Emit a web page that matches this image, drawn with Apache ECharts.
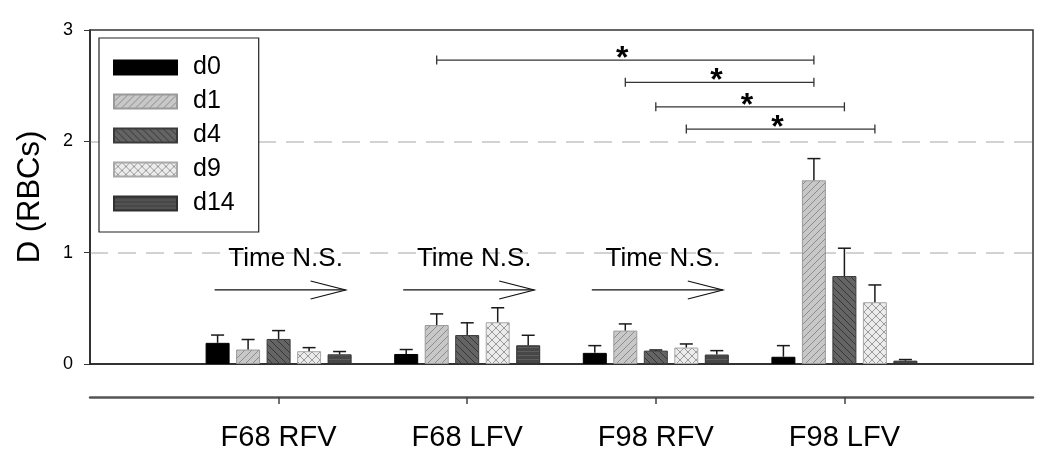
<!DOCTYPE html>
<html>
<head>
<meta charset="utf-8">
<script src="https://cdn.jsdelivr.net/npm/echarts@6/dist/echarts.min.js"></script>
<style>
html,body{margin:0;padding:0;background:#fff;}
#chart{width:1050px;height:462px;}
</style>
</head>
<body>
<div id="chart"></div>
<script>
// ---------- data ----------
const categories = ['F68 RFV', 'F68 LFV', 'F98 RFV', 'F98 LFV'];
const seriesNames = ['d0', 'd1', 'd4', 'd9', 'd14'];
const d0 = [0.19, 0.09, 0.10, 0.065];
const d1 = [0.13, 0.35, 0.30, 1.65];
const d4 = [0.225, 0.26, 0.12, 0.79];
const d9 = [0.115, 0.375, 0.148, 0.555];
const d14 = [0.087, 0.168, 0.085, 0.03];
const d0Err = [0.07, 0.04, 0.065, 0.10];
const d1Err = [0.09, 0.10, 0.06, 0.195];
const d4Err = [0.075, 0.11, 0.006, 0.25];
const d9Err = [0.032, 0.13, 0.032, 0.155];
const d14Err = [0.025, 0.09, 0.035, 0.01];
const yTicks = [0, 1, 2, 3];
// significance brackets: [group, series] -> [group, series] at level
const bracketFrom = [[1, 1], [2, 1], [2, 2], [2, 3]];
const bracketTo = [[3, 1], [3, 1], [3, 2], [3, 3]];
const bracketLevel = [2.73, 2.53, 2.31, 2.11];
const bracketMark = '*';
// "Time N.S." annotations
const nsGroups = [0, 1, 2];
const nsLabel = 'Time N.S.';
const nsTextLevel = 0.945;
const nsArrowLevel = 0.665;
const yName = 'D (RBCs)';

const means = [d0, d1, d4, d9, d14];
const errs = [d0Err, d1Err, d4Err, d9Err, d14Err];

// ---------- styles ----------
const FONT = 'Liberation Sans, Arial, sans-serif';
const BAR_W = 24, GAP_PX = 6.5, STEP = BAR_W + GAP_PX;
function pattern(bg, fg, kind, size) {
  const c = document.createElement('canvas');
  c.width = size; c.height = size;
  const g = c.getContext('2d');
  g.fillStyle = bg; g.fillRect(0, 0, size, size);
  g.strokeStyle = fg; g.lineWidth = 1;
  const s = size;
  function fwd() { g.beginPath(); g.moveTo(0, s); g.lineTo(s, 0); g.moveTo(-1, 1); g.lineTo(1, -1); g.moveTo(s - 1, s + 1); g.lineTo(s + 1, s - 1); g.stroke(); }
  function back() { g.beginPath(); g.moveTo(0, 0); g.lineTo(s, s); g.moveTo(-1, s - 1); g.lineTo(1, s + 1); g.moveTo(s - 1, -1); g.lineTo(s + 1, 1); g.stroke(); }
  if (kind === 'fwd') fwd();
  if (kind === 'back') back();
  if (kind === 'cross') { fwd(); back(); }
  if (kind === 'horiz') { g.beginPath(); g.moveTo(0, s - 0.5); g.lineTo(s, s - 0.5); g.stroke(); }
  return { image: c, repeat: 'repeat' };
}
const fills = [
  '#000000',
  pattern('#c8c8c8', '#8c8c8c', 'fwd', 7),
  pattern('#646464', '#363636', 'back', 7),
  pattern('#ececec', '#9a9a9a', 'cross', 8),
  pattern('#474747', '#5e5e5e', 'horiz', 4)
];
const borders = ['#000', '#9a9a9a', '#3a3a3a', '#a8a8a8', '#303030'];

const axisData = [''].concat(categories, ['']);
function padded(arr) { return [null].concat(arr, [null]); }

const barSeries = seriesNames.map((n, i) => ({
  name: n, type: 'bar', xAxisIndex: 0, yAxisIndex: 0,
  barWidth: BAR_W, barGap: (GAP_PX / BAR_W * 100) + '%',
  data: padded(means[i]),
  itemStyle: { color: fills[i], borderColor: borders[i], borderWidth: 1 },
  emphasis: { disabled: true },
  z: 2
}));

const errData = [];
means.forEach((arr, s) => arr.forEach((m, g) => errData.push([g + 1, s, m, errs[s][g]])));

const errSeries = {
  type: 'custom', name: 'err', xAxisIndex: 0, yAxisIndex: 0,
  encode: { x: 0, y: 2 }, data: errData, z: 3, silent: true,
  renderItem: function (params, api) {
    const cat = api.value(0), s = api.value(1), m = api.value(2), e = api.value(3);
    const b = api.coord([cat, m]), t = api.coord([cat, m + e]);
    const x = b[0] + (s - 2) * STEP;
    const st = { stroke: '#1a1a1a', lineWidth: 1.5 };
    return { type: 'group', children: [
      { type: 'line', shape: { x1: x, y1: b[1], x2: x, y2: t[1] }, style: st },
      { type: 'line', shape: { x1: x - 6.5, y1: t[1], x2: x + 6.5, y2: t[1] }, style: st }
    ] };
  }
};

const bracketData = bracketFrom.map((f, i) => [f[0] + 1, f[1], bracketTo[i][0] + 1, bracketTo[i][1], bracketLevel[i]]);
const bracketSeries = {
  type: 'custom', name: 'sig', xAxisIndex: 0, yAxisIndex: 0,
  encode: { x: 0, y: 4 }, data: bracketData, z: 4, silent: true,
  renderItem: function (params, api) {
    const lvl = api.value(4);
    const p1 = api.coord([api.value(0), lvl]);
    const p2 = api.coord([api.value(2), lvl]);
    const x1 = p1[0] + (api.value(1) - 2) * STEP;
    const x2 = p2[0] + (api.value(3) - 2) * STEP;
    const y = p1[1];
    const st = { stroke: '#333', lineWidth: 1.3 };
    return { type: 'group', children: [
      { type: 'line', shape: { x1: x1, y1: y, x2: x2, y2: y }, style: st },
      { type: 'line', shape: { x1: x1, y1: y - 4.5, x2: x1, y2: y + 4.5 }, style: st },
      { type: 'line', shape: { x1: x2, y1: y - 4.5, x2: x2, y2: y + 4.5 }, style: st },
      { type: 'text', x: (x1 + x2) / 2 - 3, y: y - 1, style: { text: bracketMark, fontFamily: FONT, fontWeight: 'bold', fontSize: 32, fill: '#000', align: 'center', verticalAlign: 'middle' } }
    ] };
  }
};

const nsData = nsGroups.map(g => [g + 1, nsTextLevel, nsArrowLevel]);
const nsSeries = {
  type: 'custom', name: 'ns', xAxisIndex: 0, yAxisIndex: 0,
  encode: { x: 0, y: 1 }, data: nsData, z: 4, silent: true,
  renderItem: function (params, api) {
    const t = api.coord([api.value(0), api.value(1)]);
    const a = api.coord([api.value(0), api.value(2)]);
    const x0 = a[0] - 64, x1 = a[0] + 67, y = a[1];
    const st = { stroke: '#111', lineWidth: 1.2 };
    return { type: 'group', children: [
      { type: 'line', shape: { x1: x0, y1: y, x2: x1, y2: y }, style: st },
      { type: 'polyline', shape: { points: [[x1 - 35, y - 9], [x1, y], [x1 - 35, y + 9]] }, style: Object.assign({ fill: null }, st) },
      { type: 'text', x: t[0] + 7, y: t[1], style: { text: nsLabel, fontFamily: FONT, fontSize: 26, fill: '#000', align: 'center', verticalAlign: 'middle' } }
    ] };
  }
};

const chart = echarts.init(document.getElementById('chart'), null, { renderer: 'canvas' });
chart.setOption({
  animation: false,
  backgroundColor: '#fff',
  textStyle: { fontFamily: FONT },
  grid: { left: 90, right: 17, top: 30, bottom: 98, show: true, borderColor: '#333', borderWidth: 1.5, backgroundColor: 'transparent' },
  legend: {
    data: seriesNames, orient: 'vertical', left: 99, top: 38,
    padding: [17, 24, 16, 14], itemWidth: 63, itemHeight: 14, itemGap: 9,
    icon: 'rect', selectedMode: false,
    borderColor: '#222', borderWidth: 1.2, backgroundColor: '#fff',
    textStyle: { fontSize: 25, color: '#000', fontFamily: FONT, padding: [0, 0, 0, 11] }
  },
  xAxis: [
    { type: 'category', data: axisData, boundaryGap: false,
      axisLine: { show: true, lineStyle: { color: '#222', width: 1.5 } },
      axisTick: { show: false }, axisLabel: { show: false }, splitLine: { show: false } },
    { type: 'category', data: axisData, boundaryGap: false, position: 'bottom', offset: 33,
      axisLine: { show: true, lineStyle: { color: '#555', width: 2.5 } },
      axisTick: { show: true, length: 7, interval: (i) => i > 0 && i < axisData.length - 1, lineStyle: { color: '#444', width: 1.5 } },
      axisLabel: { show: true, interval: (i) => i > 0 && i < axisData.length - 1, fontSize: 29, color: '#000', margin: 26, fontFamily: FONT },
      splitLine: { show: false } }
  ],
  yAxis: {
    type: 'value', min: yTicks[0], max: yTicks[yTicks.length - 1], interval: 1,
    name: yName, nameLocation: 'middle', nameGap: 44, nameRotate: 90,
    nameTextStyle: { fontSize: 31, color: '#000', fontFamily: FONT },
    axisLine: { show: true, lineStyle: { color: '#222', width: 1.5 } },
    axisTick: { show: true, length: 6, lineStyle: { color: '#333' } },
    axisLabel: { fontSize: 18, color: '#000', margin: 17, fontFamily: FONT },
    splitLine: { show: true, showMinLine: false, showMaxLine: false, lineStyle: { color: '#c4c4c4', width: 1.6, type: [18, 10] } }
  },
  series: barSeries.concat([errSeries, bracketSeries, nsSeries])
});
</script>
</body>
</html>
